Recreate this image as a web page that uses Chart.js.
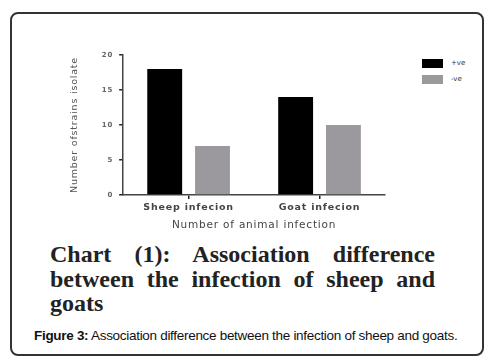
<!DOCTYPE html>
<html>
<head>
  <title>Association difference</title>
  <script src="https://cdn.jsdelivr.net/npm/chart.js"></script>
  <style>
    body { margin: 0; background: #fff; width: 495px; height: 364px; position: relative; overflow: hidden; }
    .frame {
      position: absolute; left: 10px; top: 12px; width: 470px; height: 340px;
      border: 2px solid #333; border-radius: 8px;
    }
    .chart-box { position: absolute; left: 30px; top: 32px; width: 380px; height: 204px; }
    .legend { position: absolute; left: 422px; top: 59px; font-family: "DejaVu Sans"; font-size: 7px; color: #333; }
    .legend div { height: 16px; display: flex; align-items: flex-start; }
    .legend span.box { display: inline-block; width: 21px; height: 9px; margin-right: 8px; }
    .caption {
      position: absolute; left: 50px; top: 242px; width: 385px;
      font-family: "Liberation Serif"; font-weight: bold; font-size: 24px; line-height: 24.5px;
      color: #222;
    }
    .caption .j { text-align: justify; text-align-last: justify; }
    .figure {
      position: absolute; left: 34px; top: 328px;
      font-family: "Liberation Sans"; font-size: 13.5px; letter-spacing: -0.3px; color: #111;
    }
  </style>
</head>
<body>
  <div class="frame"></div>
  <div class="chart-box"><canvas id="chart"></canvas></div>
  <div class="legend" id="legend"></div>
  <div class="caption">
    <div class="j">Chart (1): Association difference</div>
    <div class="j">between the infection of sheep and</div>
    <div>goats</div>
  </div>
  <div class="figure"><b>Figure 3:</b> Association difference between the infection of sheep and goats.</div>

  <script>
    const categories = ['Sheep infecion', 'Goat infecion'];
    const positive = [18, 14];
    const negative = [7, 10];
    const yTicks = [0, 5, 10, 15, 20];

    // the original axis text is widely spaced
    const spacing = {
      id: 'spacing',
      beforeDraw: c => { c.ctx.letterSpacing = '0.8px'; }
    };

    const chart = new Chart(document.getElementById('chart'), {
      type: 'bar',
      data: {
        labels: categories,
        datasets: [
          { label: '+ve', data: positive, backgroundColor: '#000000' },
          { label: '-ve', data: negative, backgroundColor: '#9b999d' }
        ]
      },
      options: {
        responsive: true,
        maintainAspectRatio: false,
        animation: false,
        categoryPercentage: 0.73,
        barPercentage: 0.73,
        layout: { padding: { left: 35, right: 25, top: 23 } },
        plugins: { legend: { display: false }, tooltip: { enabled: false } },
        scales: {
          x: {
            grid: { display: true, drawOnChartArea: false, offset: false, tickLength: 4, color: '#222', lineWidth: 1.5 },
            border: { color: '#444', width: 1.5 },
            ticks: { color: '#444', font: { family: 'DejaVu Sans', size: 9.5, weight: 'bold' }, padding: 3 },
            title: { display: true, text: 'Number of animal infection', color: '#444',
                     font: { family: 'DejaVu Sans', size: 10.5 }, padding: { top: 3 } }
          },
          y: {
            min: 0, max: 20,
            afterBuildTicks: s => { s.ticks = yTicks.map(v => ({ value: v })); },
            grid: { display: true, drawOnChartArea: false, tickLength: 4, color: '#222', lineWidth: 1.5 },
            border: { color: '#444', width: 1.5 },
            ticks: { color: '#666', font: { family: 'DejaVu Sans', size: 7, weight: 'bold' }, padding: 6 },
            title: { display: true, text: 'Number ofstrains isolate', color: '#555',
                     font: { family: 'DejaVu Sans', size: 9.5 }, padding: { bottom: 17 } }
          }
        }
      },
      plugins: [spacing]
    });

    // legend built from the datasets
    const legend = document.getElementById('legend');
    chart.data.datasets.forEach(ds => {
      const row = document.createElement('div');
      row.innerHTML = '<span class="box" style="background:' + ds.backgroundColor + '"></span>' + ds.label;
      legend.appendChild(row);
    });
  </script>
</body>
</html>
